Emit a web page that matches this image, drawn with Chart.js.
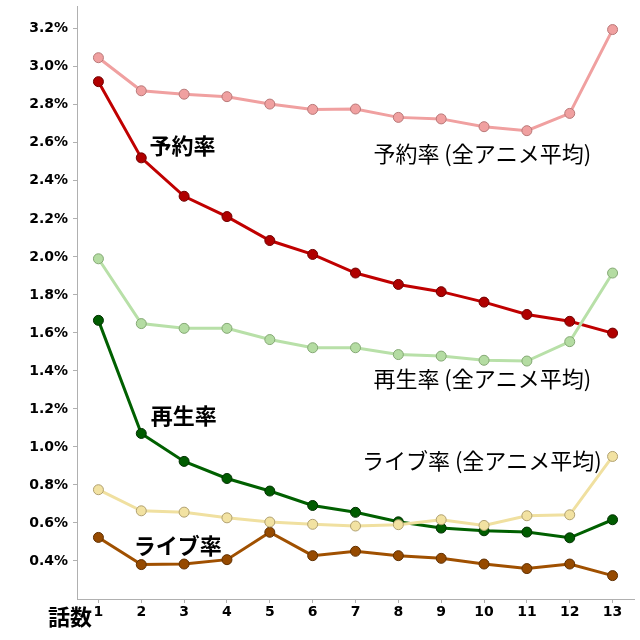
<!DOCTYPE html>
<html><head><meta charset="utf-8">
<script src="https://cdn.jsdelivr.net/npm/chart.js@4.4.0/dist/chart.umd.min.js"></script>
<style>html,body{margin:0;padding:0;background:#fff}#wrap{width:640px;height:640px}</style>
</head><body><div id="wrap"><canvas id="c" width="640" height="640"></canvas></div>
<script>
const episodes = ['1','2','3','4','5','6','7','8','9','10','11','12','13'];
const reserveAvg = [3.048,2.874,2.856,2.843,2.804,2.776,2.778,2.734,2.726,2.685,2.664,2.755,3.196];
const reserve    = [2.922,2.521,2.319,2.212,2.086,2.013,1.915,1.855,1.817,1.762,1.697,1.661,1.599];
const playAvg    = [1.990,1.649,1.624,1.624,1.565,1.522,1.522,1.486,1.478,1.456,1.452,1.554,1.915];
const play       = [1.666,1.071,0.924,0.834,0.768,0.692,0.656,0.606,0.573,0.559,0.552,0.522,0.617];
const liveAvg    = [0.775,0.664,0.657,0.627,0.605,0.593,0.584,0.591,0.617,0.587,0.638,0.643,0.950];
const live       = [0.524,0.381,0.384,0.407,0.551,0.428,0.451,0.428,0.414,0.384,0.360,0.384,0.323];
const yTicks = [0.4,0.6,0.8,1.0,1.2,1.4,1.6,1.8,2.0,2.2,2.4,2.6,2.8,3.0,3.2];
const labelTexts = ['予約率','再生率','ライブ率','予約率 (全アニメ平均)','再生率 (全アニメ平均)','ライブ率 (全アニメ平均)'];
const labelBold  = [true,true,true,false,false,false];
const labelX     = [1.96,1.99,1.85,8.96,8.96,8.95];
const labelY     = [2.585,1.167,0.479,2.543,1.361,0.930];
const xTitle = '話数';

function ds(label, data, line, fill, border){
  return {label, data, borderColor: line, backgroundColor: fill, pointBackgroundColor: fill,
    pointBorderColor: border, pointBorderWidth: 1, pointRadius: 5, pointHoverRadius: 5,
    borderWidth: 3, tension: 0, fill: false};
}
const datasets = [
  ds('予約率 (全アニメ平均)', reserveAvg, '#f0a0a0', '#f0a0a0', '#b87878'),
  ds('再生率 (全アニメ平均)', playAvg, '#b8e0a8', '#b4dca2', '#84a874'),
  ds('ライブ率 (全アニメ平均)', liveAvg, '#f0e0a0', '#f2e2a2', '#b0a070'),
  ds('ライブ率', live, '#a05000', '#964a00', '#603000'),
  ds('再生率', play, '#006000', '#005c00', '#003000'),
  ds('予約率', reserve, '#c00000', '#b00000', '#700000'),
];

const textPlugin = {
  id: 'texts',
  afterDatasetsDraw(chart){
    const ctx = chart.ctx, xs = chart.scales.x, ys = chart.scales.y;
    ctx.save();
    ctx.textAlign = 'center'; ctx.textBaseline = 'middle'; ctx.fillStyle = '#000';
    labelTexts.forEach((t,i)=>{
      ctx.font = (labelBold[i] ? 'bold 22px' : '22px') + ' "Noto Sans CJK JP"';
      const x0 = xs.getPixelForValue(Math.floor(labelX[i]));
      const x1 = xs.getPixelForValue(Math.floor(labelX[i])+1);
      const px = x0 + (x1-x0)*(labelX[i]-Math.floor(labelX[i]));
      ctx.fillText(t, px, ys.getPixelForValue(labelY[i]));
    });
    ctx.font = 'bold 22px "Noto Sans CJK JP"';
    ctx.fillText(xTitle, chart.chartArea.left - 7, xs.top + 18);
    ctx.restore();
  }
};

new Chart(document.getElementById('c'), {
  type: 'line',
  data: { labels: episodes, datasets },
  options: {
    responsive: false, animation: false, devicePixelRatio: 1,
    layout: { padding: { left: 0, top: 0, right: 3, bottom: 0 } },
    plugins: { legend: { display: false }, tooltip: { enabled: false } },
    scales: {
      x: {
        offset: true,
        grid: { display: true, drawOnChartArea: false, drawTicks: true, tickLength: 4, color: '#b0b0b0', offset: false },
        border: { color: '#b0b0b0', width: 1 },
        ticks: { color: '#000', font: { family: 'DejaVu Sans', weight: 'bold', size: 14 }, padding: 1, maxRotation: 0 },
        afterFit(s){ s.height = 41; }
      },
      y: {
        min: 0.2, max: 3.32,
        afterBuildTicks(s){ s.ticks = yTicks.map(v=>({value:v})); },
        grid: { display: true, drawOnChartArea: false, drawTicks: true, tickLength: 4, color: '#b0b0b0' },
        border: { color: '#b0b0b0', width: 1 },
        ticks: { color: '#000', font: { family: 'DejaVu Sans', weight: 'bold', size: 14 }, padding: 5,
          callback: v => v.toFixed(1) + '%' },
        afterFit(s){ s.width = 77; s.paddingTop = 0; }
      }
    }
  },
  plugins: [textPlugin]
});
</script></body></html>
